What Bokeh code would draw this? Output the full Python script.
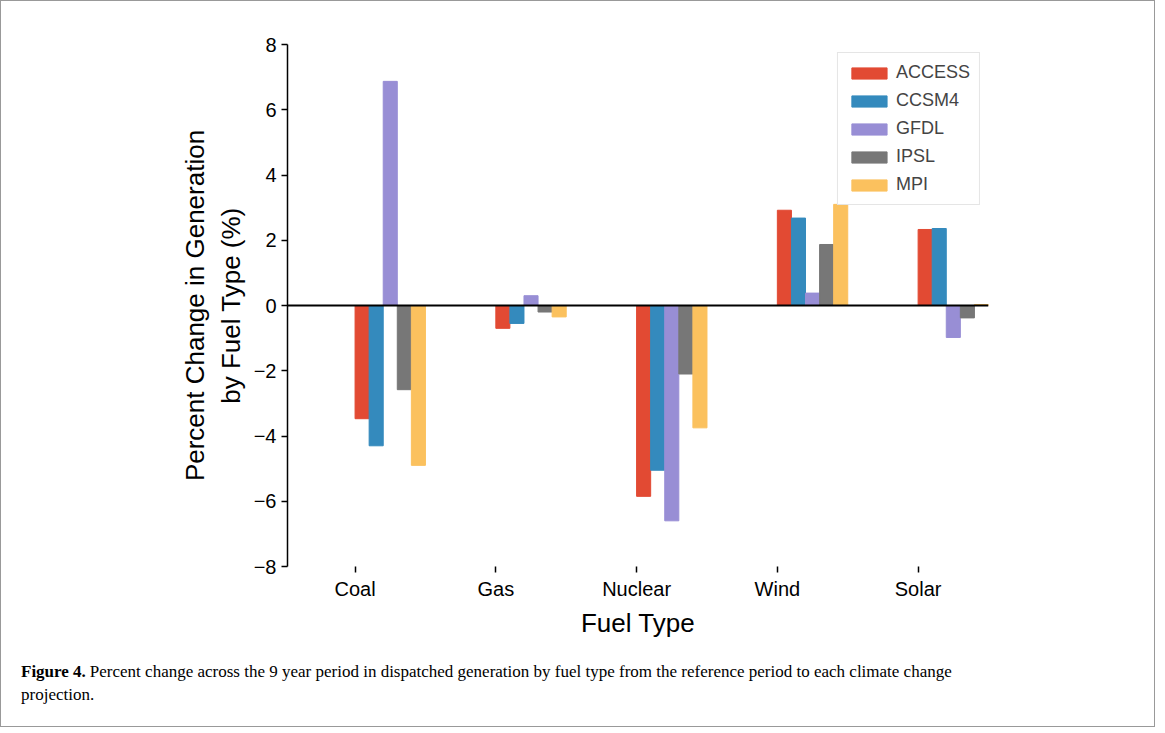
from bokeh.plotting import figure
from bokeh.models import ColumnDataSource, Span, Legend, LegendItem, FixedTicker, Range1d, Div
from bokeh.layouts import column
from bokeh.embed import file_html
from bokeh.resources import INLINE

fuels = ["Coal", "Gas", "Nuclear", "Wind", "Solar"]
models = ["ACCESS", "CCSM4", "GFDL", "IPSL", "MPI"]
colors = ["#E24A33", "#348ABD", "#988ED5", "#777777", "#FBC15E"]
access = [-3.47, -0.70, -5.85, 2.92, 2.33]
ccsm4 = [-4.30, -0.55, -5.05, 2.68, 2.36]
gfdl = [6.87, 0.30, -6.60, 0.38, -0.98]
ipsl = [-2.58, -0.20, -2.10, 1.87, -0.38]
mpi = [-4.90, -0.35, -3.75, 3.10, 0.03]
series = [access, ccsm4, gfdl, ipsl, mpi]

FONT = "Liberation Sans"
p = figure(width=1153, height=655, output_backend="svg", toolbar_location=None,
           x_range=Range1d(-0.48, 4.5), y_range=Range1d(-8, 8),
           min_border_left=286, min_border_right=166, min_border_top=43, min_border_bottom=90)
p.outline_line_color = None
p.grid.visible = False

items = []
for i, (name, vals) in enumerate(zip(models, series)):
    src = ColumnDataSource(dict(x=[j + 0.05 + 0.1 * i for j in range(len(fuels))], top=vals))
    r = p.vbar(x="x", top="top", bottom=0, width=0.1, color=colors[i], source=src)
    items.append(LegendItem(label=name, renderers=[r]))

p.add_layout(Span(location=0, dimension="width", line_color="black", line_width=2))

p.xaxis.ticker = FixedTicker(ticks=list(range(len(fuels))))
p.xaxis.major_label_overrides = {i: f for i, f in enumerate(fuels)}
p.xaxis.axis_line_color = None
p.xaxis.minor_tick_line_color = None
p.xaxis.major_tick_out = 6
p.xaxis.major_tick_in = 0
p.xaxis.axis_label = "Fuel Type"
p.yaxis.ticker = FixedTicker(ticks=[-8, -6, -4, -2, 0, 2, 4, 6, 8])
p.yaxis.minor_tick_line_color = None
p.yaxis.major_tick_out = 6
p.yaxis.major_tick_in = 0
p.yaxis.axis_label = "Percent Change in Generation\nby Fuel Type (%)"
for ax in (p.xaxis, p.yaxis):
    ax.major_label_text_font = FONT
    ax.major_label_text_font_size = "20px"
    ax.major_label_text_color = "black"
    ax.axis_label_text_font = FONT
    ax.axis_label_text_font_size = "26px"
    ax.axis_label_text_font_style = "normal"
    ax.axis_label_text_color = "black"
    ax.axis_line_width = 1.5
    ax.major_tick_line_width = 1.5

leg = Legend(items=items, location="top_right", label_text_font=FONT,
             label_text_font_size="18px", glyph_width=44, glyph_height=14,
             border_line_color="#cccccc", padding=9, spacing=7, margin=8)
p.add_layout(leg)

cap = Div(text="<span style='font-weight:bold;margin-right:4px'>Figure 4.</span>Percent change across the 9 year period "
               "in dispatched generation by fuel type from the reference period to each climate change projection.",
          width=1010, styles={"font-family": "Liberation Serif", "font-size": "17px",
                              "padding": "0 0 14px 15px", "line-height": "1.35"})
page = column(p, cap, styles={"border": "1px solid #999999"})
open("out.html", "w").write(file_html(page, INLINE))
